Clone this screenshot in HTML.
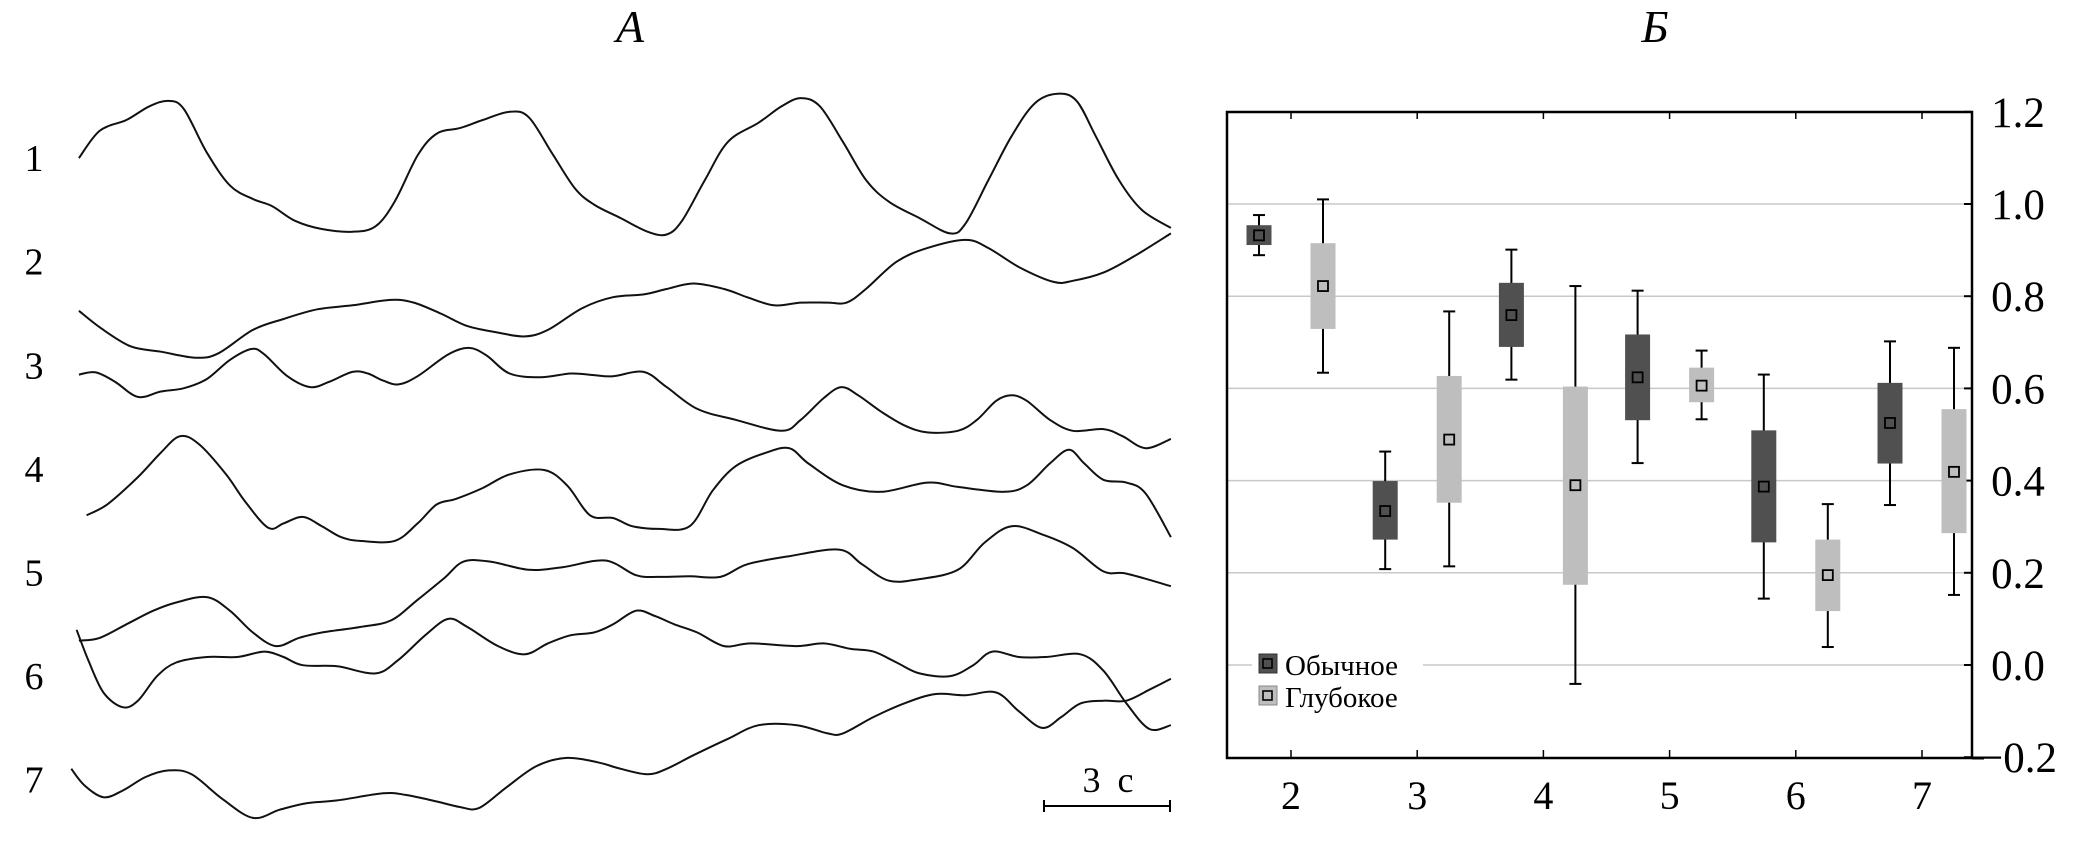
<!DOCTYPE html>
<html><head><meta charset="utf-8">
<style>
html,body{margin:0;padding:0;background:#fff;}
svg{display:block;}
text{font-family:"Liberation Serif","DejaVu Serif",serif;fill:#000;}
</style></head>
<body>
<svg id="fig" width="2091" height="858" viewBox="0 0 2091 858" xmlns="http://www.w3.org/2000/svg">
<text x="630" y="42" font-size="46" font-style="italic" text-anchor="middle">А</text>
<text x="1655" y="42" font-size="46" font-style="italic" text-anchor="middle">Б</text>
<g id="traces"></g>
<g>
<text x="1110" y="792" font-size="36" letter-spacing="4" text-anchor="middle">3 с</text>
<line x1="1044" y1="806" x2="1170" y2="806" stroke="#000" stroke-width="2"/>
<line x1="1044" y1="800" x2="1044" y2="812" stroke="#000" stroke-width="2"/>
<line x1="1170" y1="800" x2="1170" y2="812" stroke="#000" stroke-width="2"/>
</g>
<g id="boxchart"></g>
</svg>
<script>
const traceLabels = ['1','2','3','4','5','6','7'];
const t1=[103,130,165,195,220,240,270,300,330,355,385,420,460,490,515,545,570,600,630,665,690,720,750,775,810,845,870,890,920,950,990,1020,1045,1070,1100,1130,1160,1200,1240,1260,1290,1320,1350,1380,1405,1430,1460,1490,1528];
const v1=[290,240,220,195,185,200,280,340,365,378,405,420,425,415,370,285,245,235,220,205,215,280,345,375,400,425,430,405,330,260,225,195,180,195,260,330,370,400,428,410,330,250,190,172,185,250,330,385,418];
const t2=[103,130,170,210,255,285,330,370,415,460,510,540,575,610,650,685,715,760,800,840,870,905,945,975,1010,1045,1080,1105,1130,1170,1210,1260,1290,1330,1375,1400,1440,1480,1528];
const v2=[570,600,635,645,656,648,605,585,567,560,550,555,575,598,610,617,605,565,545,540,530,520,530,545,560,555,555,555,530,480,455,440,455,490,517,515,500,470,428];
const t3=[103,125,150,180,210,240,270,300,328,345,375,405,430,460,480,500,520,545,585,612,635,665,705,745,775,800,840,870,910,960,1020,1045,1075,1098,1120,1150,1180,1210,1250,1275,1300,1320,1340,1370,1400,1440,1465,1495,1528];
const v3=[687,683,700,728,718,712,695,660,640,650,690,710,700,682,685,698,705,690,650,638,652,685,692,685,688,690,682,710,750,770,790,770,730,710,725,755,780,793,790,770,735,725,735,770,790,787,800,822,805];
const t4=[113,140,180,210,235,260,295,320,350,370,395,420,445,470,515,545,570,595,630,665,710,740,770,800,825,860,900,930,960,1000,1030,1055,1100,1150,1210,1250,1310,1340,1370,1395,1415,1440,1470,1495,1528];
const v4=[945,925,875,830,800,815,870,920,968,960,948,965,985,992,992,960,925,915,895,870,862,890,945,950,965,970,965,900,855,830,822,850,890,902,885,893,902,890,850,825,850,880,885,905,985];
const t5=[103,130,165,200,230,270,300,330,360,390,420,470,510,545,580,605,640,690,735,790,830,860,900,940,975,1030,1095,1125,1160,1200,1250,1285,1320,1360,1400,1440,1470,1528];
const v5=[1175,1170,1145,1120,1105,1095,1120,1160,1185,1170,1160,1150,1138,1100,1060,1030,1030,1045,1040,1028,1055,1058,1057,1058,1035,1020,1008,1035,1065,1062,1045,995,965,980,1005,1048,1052,1075];
const t6=[100,115,135,160,180,205,230,270,310,345,370,395,440,490,520,555,585,610,650,685,715,745,775,800,830,855,880,910,945,980,1040,1075,1110,1140,1170,1200,1240,1270,1295,1330,1365,1410,1440,1470,1500,1528];
const v6=[1155,1210,1270,1297,1285,1240,1215,1205,1205,1195,1205,1220,1222,1235,1210,1165,1135,1150,1185,1200,1180,1165,1160,1145,1120,1130,1145,1160,1185,1180,1185,1180,1190,1195,1215,1235,1240,1220,1195,1205,1205,1200,1230,1290,1337,1330];
const t7=[93,110,135,160,190,220,250,290,330,365,400,440,500,530,570,600,625,660,700,740,780,810,845,870,905,950,990,1040,1080,1100,1140,1180,1220,1260,1300,1330,1360,1385,1410,1440,1470,1500,1528];
const v7=[1410,1440,1462,1450,1425,1413,1420,1465,1500,1485,1473,1468,1455,1458,1470,1480,1482,1445,1405,1390,1398,1410,1420,1410,1385,1355,1330,1330,1345,1345,1315,1290,1273,1275,1270,1305,1335,1315,1290,1285,1285,1265,1245];
const traceT=[t1,t2,t3,t4,t5,t6,t7];
const traceV=[v1,v2,v3,v4,v5,v6,v7];
const labelLevel=[290,480,670,860,1050,1240,1430];

// ---- Panel B: box chart data ----
const categories=['2','3','4','5','6','7'];
const normWhiskHi=[0.976,0.463,0.901,0.812,0.630,0.702];
const normBoxHi  =[0.954,0.399,0.829,0.717,0.509,0.612];
const normMean   =[0.932,0.334,0.759,0.624,0.387,0.525];
const normBoxLo  =[0.911,0.272,0.690,0.531,0.266,0.437];
const normWhiskLo=[0.889,0.208,0.619,0.438,0.144,0.347];
const deepWhiskHi=[1.010,0.767,0.822,0.682,0.349,0.688];
const deepBoxHi  =[0.915,0.627,0.604,0.645,0.272,0.555];
const deepMean   =[0.822,0.489,0.390,0.606,0.195,0.419];
const deepBoxLo  =[0.729,0.352,0.174,0.570,0.117,0.286];
const deepWhiskLo=[0.634,0.214,-0.041,0.533,0.039,0.152];
const yTicks=[1.2,1.0,0.8,0.6,0.4,0.2,0.0,-0.2];
const yTickLabels=['1.2','1.0','0.8','0.6','0.4','0.2','0.0','\u22120.2'];

const NS='http://www.w3.org/2000/svg';
function mk(tag,attrs,parent){const e=document.createElementNS(NS,tag);for(const k in attrs)e.setAttribute(k,attrs[k]);parent.appendChild(e);return e;}

// axis functions for panel A
const ax=t=>t/1.305;
const ay=v=>v/1.834;
function smoothPath(xs,ys){
  const P=xs.map((x,i)=>[ax(x),ay(ys[i])]);
  let d='M'+P[0][0].toFixed(1)+','+P[0][1].toFixed(1);
  for(let i=0;i<P.length-1;i++){
    const p0=P[i-1]||P[i],p1=P[i],p2=P[i+1],p3=P[i+2]||P[i+1];
    const c1=[p1[0]+(p2[0]-p0[0])/6,p1[1]+(p2[1]-p0[1])/6];
    const c2=[p2[0]-(p3[0]-p1[0])/6,p2[1]-(p3[1]-p1[1])/6];
    d+=' C'+c1[0].toFixed(1)+','+c1[1].toFixed(1)+' '+c2[0].toFixed(1)+','+c2[1].toFixed(1)+' '+p2[0].toFixed(1)+','+p2[1].toFixed(1);
  }
  return d;
}
const tg=document.getElementById('traces');
for(let k=0;k<traceT.length;k++){
  const p=mk('path',{d:smoothPath(traceT[k],traceV[k]),fill:'none',stroke:'#111','stroke-width':2},tg);
  
  
  const l=mk('text',{x:34,y:(ay(labelLevel[k])+13).toFixed(1),'font-size':38,'text-anchor':'middle'},tg);
  l.textContent=traceLabels[k];
  
  
}

// panel B axes
const L=1227,R=1972,T=112,B=758;
const yS=v=>665-v*(665-204)/1.0;
const xS=i=>1291+i*126.2;
const g=document.getElementById('boxchart');
for(let i=0;i<yTicks.length;i++){
  const y=yS(yTicks[i]);
  if(yTicks[i]>-0.15&&yTicks[i]<1.15){
    if(Math.abs(yTicks[i])<1e-9){
      const a=mk('line',{x1:L,y1:y,x2:1252,y2:y,stroke:'#c8c8c8','stroke-width':1.5},g);
      
      const b=mk('line',{x1:1423,y1:y,x2:R,y2:y,stroke:'#c8c8c8','stroke-width':1.5},g);
      
    } else {
      const gl=mk('line',{x1:L,y1:y,x2:R,y2:y,stroke:'#c8c8c8','stroke-width':1.5},g);
      
    }
  }
  const tk=mk('line',{x1:R-8,y1:y,x2:R,y2:y,stroke:'#000','stroke-width':2},g);
  
  const tl=mk('text',{x:2018,y:y+15,'font-size':43,'text-anchor':'middle'},g);
  tl.textContent=yTickLabels[i];
  
}
function drawBox(cx,wh,bh,m,bl,wl,fill,name){
  const grp=mk('g',{},g);
  
  
  mk('line',{x1:cx,y1:yS(wh),x2:cx,y2:yS(wl),stroke:'#000','stroke-width':2},grp);
  mk('line',{x1:cx-6,y1:yS(wh),x2:cx+6,y2:yS(wh),stroke:'#000','stroke-width':2},grp);
  mk('line',{x1:cx-6,y1:yS(wl),x2:cx+6,y2:yS(wl),stroke:'#000','stroke-width':2},grp);
  mk('rect',{x:cx-12.5,y:yS(bh),width:25,height:yS(bl)-yS(bh),fill:fill},grp);
  mk('rect',{x:cx-5,y:yS(m)-5,width:10,height:10,fill:fill,stroke:'#000','stroke-width':1.8},grp);
}
for(let i=0;i<categories.length;i++){
  drawBox(xS(i)-32,normWhiskHi[i],normBoxHi[i],normMean[i],normBoxLo[i],normWhiskLo[i],'#505050','box-normal-'+categories[i]);
  drawBox(xS(i)+32,deepWhiskHi[i],deepBoxHi[i],deepMean[i],deepBoxLo[i],deepWhiskLo[i],'#bebebe','box-deep-'+categories[i]);
  const bt=mk('line',{x1:xS(i),y1:B-8,x2:xS(i),y2:B,stroke:'#000','stroke-width':1.5},g);
  
  const tt=mk('line',{x1:xS(i),y1:T,x2:xS(i),y2:T+7,stroke:'#000','stroke-width':1.5},g);
  
  const xl=mk('text',{x:xS(i),y:809,'font-size':40,'text-anchor':'middle'},g);
  xl.textContent=categories[i];
  
}
const fr=mk('rect',{x:L,y:T,width:R-L,height:B-T,fill:'none',stroke:'#000','stroke-width':2.5},g);

const mt=mk('line',{x1:R,y1:B,x2:R+12,y2:B,stroke:'#000','stroke-width':3},g);

</script>
<svg style="position:absolute;left:0;top:0" width="2091" height="858">
<g>
<g>
<rect x="1259" y="654" width="18" height="19" fill="#505050" stroke="#333" stroke-width="1"/>
<rect x="1263" y="659" width="9" height="9" fill="#505050" stroke="#000" stroke-width="1.6"/>
<text x="1285" y="675" font-size="29" style="font-family:'Liberation Serif',serif">Обычное</text>
</g>
<g>
<rect x="1259" y="686" width="18" height="19" fill="#bebebe" stroke="#888" stroke-width="1"/>
<rect x="1263" y="691" width="9" height="9" fill="#bebebe" stroke="#000" stroke-width="1.6"/>
<text x="1285" y="707" font-size="29" style="font-family:'Liberation Serif',serif">Глубокое</text>
</g>
</g>
</svg>
</body></html>
